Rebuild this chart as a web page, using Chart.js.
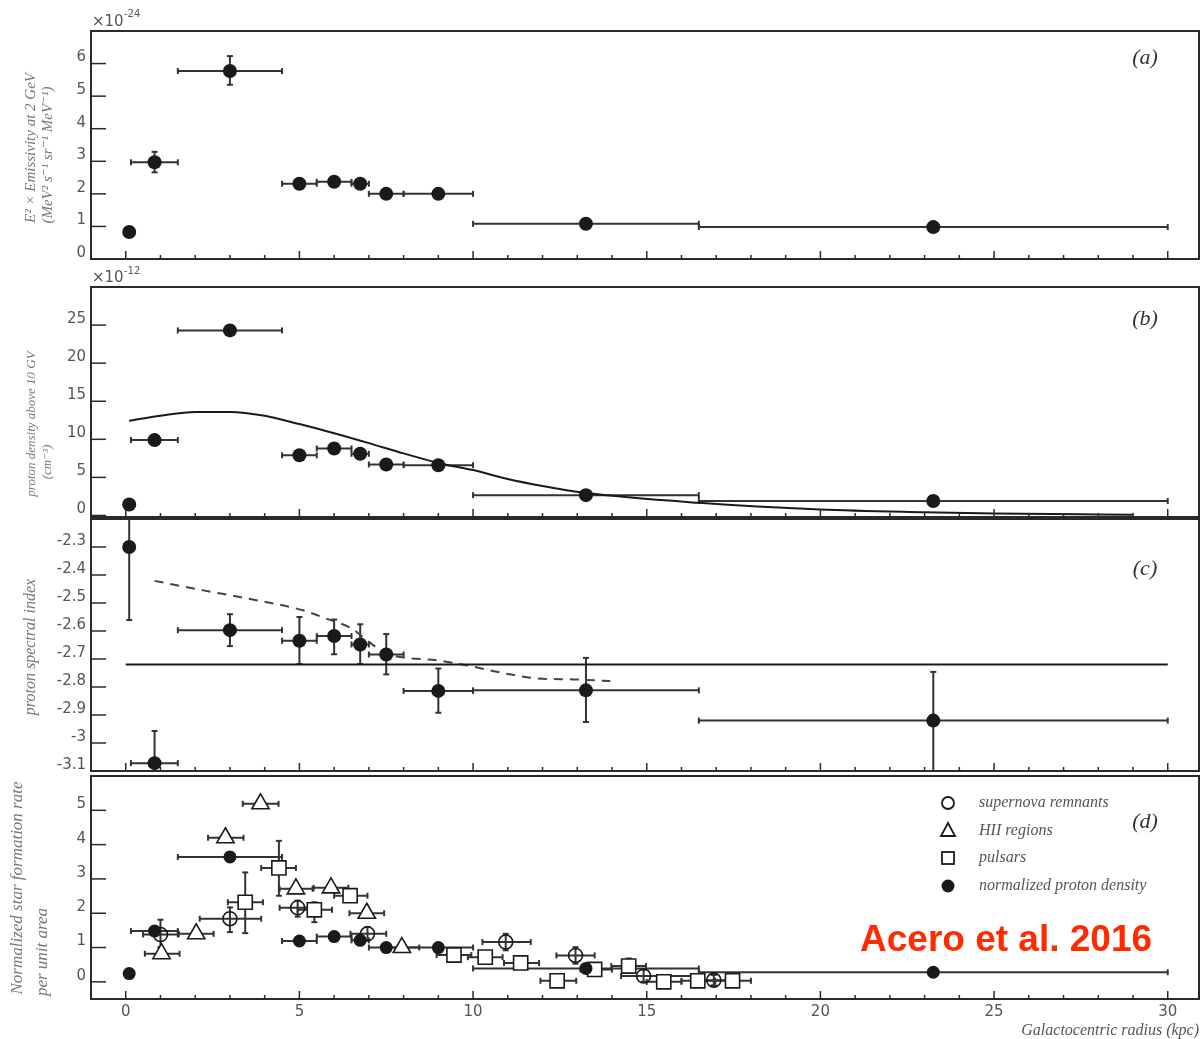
<!DOCTYPE html>
<html>
<head>
<meta charset="utf-8">
<script src="https://cdn.jsdelivr.net/npm/chart.js@4.4.0/dist/chart.umd.min.js"></script>
<style>
  body { margin: 0; background: #fff; }
  #wrap { position: relative; width: 1201px; height: 1039px; }
  #wrap canvas { position: absolute; left: 0; top: 0; }
</style>
</head>
<body>
<div id="wrap">
  <canvas id="panel_a" width="1201" height="1039"></canvas>
  <canvas id="panel_b" width="1201" height="1039"></canvas>
  <canvas id="panel_c" width="1201" height="1039"></canvas>
  <canvas id="panel_d" width="1201" height="1039"></canvas>
</div>
<script>
// radial bins (kpc), shared by the proton points of every panel
var binR  = [0.1, 0.83, 3.0, 5.0, 6.0, 6.75, 7.5, 9.0, 13.25, 23.25];
var binLo = [null, 0.15, 1.5, 4.5, 5.5, 6.5, 7.0, 8.0, 10.0, 16.5];
var binHi = [null, 1.5, 4.5, 5.5, 6.5, 7.0, 8.0, 10.0, 16.5, 30.0];

// (a) emissivity, units of 1e-24
var aVal = [0.83, 2.97, 5.77, 2.31, 2.37, 2.31, 2.0, 2.0, 1.08, 0.98];
var aYlo = [null, 2.66, 5.35, null, null, null, null, null, null, null];
var aYhi = [null, 3.29, 6.23, null, null, null, null, null, null, null];

// (b) proton density above 10 GV, units of 1e-12
var bVal = [1.45, 9.9, 24.3, 7.9, 8.8, 8.1, 6.7, 6.6, 2.67, 1.9];
var bModelR   = [0.1, 1, 2, 3, 4, 5, 6, 7, 8, 9, 10, 11, 12, 13.2, 16.5, 20, 23, 25, 28, 29];
var bModelVal = [12.45, 13.1, 13.6, 13.6, 13.1, 12.0, 10.8, 9.5, 8.15, 6.9, 5.96, 4.78, 3.86, 2.97, 1.66, 0.79, 0.43, 0.26, 0.13, 0.1];

// (c) proton spectral index
var cVal = [-2.30, -3.072, -2.597, -2.635, -2.618, -2.648, -2.684, -2.814, -2.812, -2.92];
var cYlo = [-2.561, -3.2, -2.654, -2.718, -2.683, -2.718, -2.755, -2.892, -2.925, -3.1];
var cYhi = [-2.2, -2.957, -2.54, -2.55, -2.559, -2.576, -2.611, -2.734, -2.696, -2.746];
var cFitR = [0, 30];
var cFitVal = [-2.72, -2.72];
var cModelR   = [0.83, 2.2, 3.5, 5.1, 5.75, 6.5, 7.0, 7.5, 9.05, 9.8, 10.9, 11.8, 12.9, 13.95];
var cModelVal = [-2.421, -2.454, -2.484, -2.526, -2.555, -2.591, -2.639, -2.68, -2.706, -2.722, -2.751, -2.769, -2.773, -2.779];

// (d) normalized star formation rate
var dDensVal = [0.24, 1.48, 3.64, 1.19, 1.32, 1.21, 1.0, 1.0, 0.39, 0.28];

var snrR   = [1.0, 3.0, 4.95, 6.96, 10.94, 12.95, 14.91, 16.93];
var snrVal = [1.38, 1.84, 2.16, 1.40, 1.16, 0.77, 0.17, 0.05];
var snrXlo = [0.5, 2.13, 4.43, 6.47, 10.27, 12.4, 14.26, 16.3];
var snrXhi = [1.5, 3.9, 5.48, 7.5, 11.66, 13.5, 16.45, 17.55];
var snrYlo = [1.01, 1.45, 1.9, 1.21, 0.92, 0.53, 0.0, -0.1];
var snrYhi = [1.81, 2.17, 2.37, 1.6, 1.4, 1.01, 0.35, 0.2];

var hiiR   = [1.03, 2.03, 2.87, 3.88, 4.9, 5.91, 6.94, 7.95];
var hiiVal = [0.82, 1.40, 4.2, 5.19, 2.71, 2.74, 2.0, 1.0];
var hiiXlo = [0.55, 1.53, 2.37, 3.37, 4.43, 5.41, 6.44, 7.45];
var hiiXhi = [1.55, 2.53, 3.39, 4.4, 5.38, 6.41, 7.44, 8.45];

var psrR   = [3.44, 4.41, 5.43, 6.46, 9.45, 10.35, 11.37, 12.42, 13.5, 14.48, 15.49, 16.47, 17.47];
var psrVal = [2.32, 3.32, 2.1, 2.51, 0.78, 0.72, 0.55, 0.03, 0.36, 0.46, 0.0, 0.03, 0.03];
var psrXlo = [2.94, 3.9, 4.95, 6.0, 8.95, 9.85, 10.89, 11.94, 13.09, 13.98, 15.0, 16.0, 16.97];
var psrXhi = [3.95, 4.9, 5.94, 6.96, 9.95, 10.85, 11.9, 12.97, 14.0, 14.98, 16.0, 16.97, 18.0];
var psrYlo = [1.42, 2.51, 1.74, 2.35, 0.66, 0.6, 0.43, -0.12, 0.24, 0.3, -0.15, -0.1, -0.1];
var psrYhi = [3.19, 4.11, 2.32, 2.67, 0.9, 0.84, 0.67, 0.18, 0.48, 0.68, 0.12, 0.15, 0.15];

// tick labels
var xTicks = [0, 5, 10, 15, 20, 25, 30];
var aTicks = [0, 1, 2, 3, 4, 5, 6];
var bTicks = [0, 5, 10, 15, 20, 25];
var cTicks = [-3.1, -3, -2.9, -2.8, -2.7, -2.6, -2.5, -2.4, -2.3];
var dTicks = [0, 1, 2, 3, 4, 5];

var legendNames = ["supernova remnants", "HII regions", "pulsars", "normalized proton density"];

var INK = "#1a1a1a";
var BAR = "#333";
var SERIF_I = "italic {s}px 'Liberation Serif', 'DejaVu Serif', serif";
function serif(s) { return SERIF_I.replace("{s}", s); }

function pts(xs, ys) {
    var out = [];
    for (var i = 0; i < xs.length; i++) {
        out.push({ x: xs[i], y: ys[i] });
    }
    return out;
}

function line(ctx, x1, y1, x2, y2) {
    ctx.beginPath();
    ctx.moveTo(x1, y1);
    ctx.lineTo(x2, y2);
    ctx.stroke();
}

function txt(ctx, s, x, y, font, color, align, rot) {
    ctx.save();
    ctx.translate(x, y);
    if (rot) ctx.rotate(rot);
    ctx.font = font;
    ctx.fillStyle = color;
    ctx.textAlign = align || "left";
    ctx.textBaseline = "middle";
    ctx.fillText(s, 0, 0);
    ctx.restore();
}

// extra drawing per panel: texts, y ticks, legend
var extras = {};

var panelPlugin = {
    id: "panel",
    beforeDatasetsDraw: function(chart) {
        var ctx = chart.ctx, xs = chart.scales.x, ys = chart.scales.y, area = chart.chartArea;
        ctx.save();
        ctx.beginPath();
        ctx.rect(area.left, area.top, area.right - area.left, area.bottom - area.top);
        ctx.clip();
        ctx.strokeStyle = BAR;
        ctx.lineWidth = 2;
        chart.data.datasets.forEach(function(ds) {
            if (!ds.err) return;
            var e = ds.err;
            ds.data.forEach(function(p, i) {
                var px = xs.getPixelForValue(p.x), py = ys.getPixelForValue(p.y);
                if (e.xlo && e.xlo[i] != null) {
                    var x1 = xs.getPixelForValue(e.xlo[i]), x2 = xs.getPixelForValue(e.xhi[i]);
                    line(ctx, x1, py, x2, py);
                    line(ctx, x1, py - 3, x1, py + 3);
                    line(ctx, x2, py - 3, x2, py + 3);
                }
                if (e.ylo && e.ylo[i] != null) {
                    var y1 = ys.getPixelForValue(e.ylo[i]), y2 = ys.getPixelForValue(e.yhi[i]);
                    line(ctx, px, y1, px, y2);
                    line(ctx, px - 3, y1, px + 3, y1);
                    line(ctx, px - 3, y2, px + 3, y2);
                }
            });
        });
        ctx.restore();
    },
    afterDraw: function(chart) {
        var ctx = chart.ctx, xs = chart.scales.x, ys = chart.scales.y, area = chart.chartArea;
        var ex = extras[chart.canvas.id];
        ctx.save();
        ctx.strokeStyle = "#2a2a2a";
        ctx.lineWidth = 2;
        ctx.strokeRect(area.left, area.top, area.right - area.left, area.bottom - area.top);
        // inward ticks
        ctx.lineWidth = 1.5;
        ex.yTicks.forEach(function(v) {
            var y = ys.getPixelForValue(v);
            line(ctx, area.left, y, area.left + 15, y);
        });
        for (var r = 0; r <= 30; r++) {
            var x = xs.getPixelForValue(r);
            line(ctx, x, area.bottom, x, area.bottom - (r % 5 === 0 ? 8 : 4));
        }
        ctx.restore();
        ex.texts.forEach(function(t) {
            txt(ctx, t[0], t[1], t[2], t[3], t[4], t[5], t[6]);
        });
        if (ex.legend) drawLegend(ctx);
    }
};

function drawLegend(ctx) {
    var mx = 948, rows = [803, 831, 858, 886];
    ctx.save();
    ctx.strokeStyle = INK;
    ctx.lineWidth = 1.8;
    ctx.beginPath();
    ctx.arc(mx, rows[0], 6, 0, Math.PI * 2);
    ctx.stroke();
    ctx.beginPath();
    ctx.moveTo(mx, rows[1] - 8);
    ctx.lineTo(mx + 7, rows[1] + 5);
    ctx.lineTo(mx - 7, rows[1] + 5);
    ctx.closePath();
    ctx.stroke();
    ctx.strokeRect(mx - 6, rows[2] - 6, 12, 12);
    ctx.fillStyle = INK;
    ctx.beginPath();
    ctx.arc(mx, rows[3], 6.5, 0, Math.PI * 2);
    ctx.fill();
    ctx.restore();
    legendNames.forEach(function(n, i) {
        txt(ctx, n, 979, rows[i], serif(16), "#555", "left");
    });
}

function makePanel(id, top, bottom, yMin, yMax, yTicks, datasets, showX, texts, legend) {
    var xh = showX ? 40 : 0;
    extras[id] = { yTicks: yTicks, texts: texts, legend: legend };
    return new Chart(document.getElementById(id), {
        type: "scatter",
        data: { datasets: datasets },
        options: {
            responsive: false,
            animation: false,
            events: [],
            layout: { autoPadding: false, padding: { left: 0, right: 2, top: top, bottom: 1039 - bottom - xh } },
            plugins: { legend: { display: false }, tooltip: { enabled: false } },
            scales: {
                x: {
                    type: "linear", min: -1, max: 30.9,
                    grid: { display: false, drawTicks: false }, border: { display: false },
                    ticks: {
                        display: showX, color: "#555", padding: 4, maxRotation: 0, autoSkip: false,
                        font: { family: "'DejaVu Sans', sans-serif", size: 15 },
                        callback: function(v) { return String(v); }
                    },
                    afterBuildTicks: function(s) { s.ticks = xTicks.map(function(v) { return { value: v }; }); },
                    afterFit: function(s) { s.height = xh; s.paddingLeft = 0; s.paddingRight = 0; }
                },
                y: {
                    type: "linear", min: yMin, max: yMax,
                    grid: { display: false, drawTicks: false }, border: { display: false },
                    ticks: {
                        color: "#555", padding: 5, labelOffset: -6, autoSkip: false,
                        font: { family: "'DejaVu Sans', sans-serif", size: 15 },
                        callback: function(v) { return String(v); }
                    },
                    afterBuildTicks: function(s) { s.ticks = yTicks.map(function(v) { return { value: v }; }); },
                    afterFit: function(s) { s.width = 91; s.paddingTop = 0; s.paddingBottom = 0; }
                }
            }
        },
        plugins: [panelPlugin]
    });
}

var dot = { pointStyle: "circle", pointRadius: 7, backgroundColor: INK, borderColor: INK, borderWidth: 0 };
var ROT = -Math.PI / 2;
var SANS = "'DejaVu Sans', sans-serif";

// (a)
makePanel("panel_a", 31, 259, 0, 7, aTicks, [
    Object.assign({ label: "emissivity", data: pts(binR, aVal),
        err: { xlo: binLo, xhi: binHi, ylo: aYlo, yhi: aYhi } }, dot)
], false, [
    ["×10", 92, 22, "15px " + SANS, "#555", "left"],
    ["-24", 124, 14, "10px " + SANS, "#555", "left"],
    ["(a)", 1145, 58, serif(22), "#333", "center"],
    ["E² × Emissivity at 2 GeV", 31, 148, serif(15), "#777", "center", ROT],
    ["(MeV² s⁻¹ sr⁻¹ MeV⁻¹)", 48, 155, serif(15), "#777", "center", ROT]
], false);

// (b)
makePanel("panel_b", 287, 517, -0.2, 30, bTicks, [
    Object.assign({ label: "proton density", data: pts(binR, bVal),
        err: { xlo: binLo, xhi: binHi } }, dot),
    { label: "model", data: pts(bModelR, bModelVal), showLine: true, pointRadius: 0,
      borderColor: INK, borderWidth: 2, cubicInterpolationMode: "monotone" }
], false, [
    ["×10", 92, 278, "15px " + SANS, "#555", "left"],
    ["-12", 124, 271, "10px " + SANS, "#555", "left"],
    ["(b)", 1145, 319, serif(22), "#333", "center"],
    ["proton density above 10 GV", 32, 424, serif(13), "#777", "center", ROT],
    ["(cm⁻³)", 48, 462, serif(13), "#777", "center", ROT]
], false);

// (c)
makePanel("panel_c", 519, 771, -3.1, -2.2, cTicks, [
    Object.assign({ label: "spectral index", data: pts(binR, cVal),
        err: { xlo: binLo, xhi: binHi, ylo: cYlo, yhi: cYhi } }, dot),
    { label: "mean", data: pts(cFitR, cFitVal), showLine: true, pointRadius: 0,
      borderColor: INK, borderWidth: 2 },
    { label: "model", data: pts(cModelR, cModelVal), showLine: true, pointRadius: 0,
      borderColor: "#444", borderWidth: 2, borderDash: [9, 7], cubicInterpolationMode: "monotone" }
], false, [
    ["(c)", 1145, 569, serif(22), "#333", "center"],
    ["proton spectral index", 31, 647, serif(16), "#777", "center", ROT]
], false);

// (d)
makePanel("panel_d", 776, 999, -0.5, 6, dTicks, [
    Object.assign({ label: "normalized proton density", data: pts(binR, dDensVal),
        err: { xlo: binLo, xhi: binHi } }, dot, { pointRadius: 6.5 }),
    { label: "supernova remnants", data: pts(snrR, snrVal),
      err: { xlo: snrXlo, xhi: snrXhi, ylo: snrYlo, yhi: snrYhi },
      pointStyle: "circle", pointRadius: 7, backgroundColor: "rgba(0,0,0,0)", borderColor: INK, borderWidth: 1.6 },
    { label: "HII regions", data: pts(hiiR, hiiVal),
      err: { xlo: hiiXlo, xhi: hiiXhi },
      pointStyle: "triangle", pointRadius: 10, backgroundColor: "#fff", borderColor: INK, borderWidth: 1.6 },
    { label: "pulsars", data: pts(psrR, psrVal),
      err: { xlo: psrXlo, xhi: psrXhi, ylo: psrYlo, yhi: psrYhi },
      pointStyle: "rect", pointRadius: 10, backgroundColor: "#fff", borderColor: INK, borderWidth: 1.6 }
], true, [
    ["(d)", 1145, 822, serif(22), "#333", "center"],
    ["Normalized star formation rate", 18, 888, serif(17), "#777", "center", ROT],
    ["per unit area", 43, 952, serif(17), "#777", "center", ROT],
    ["Galactocentric radius (kpc)", 1199, 1031, serif(16), "#555", "right"],
    ["Acero et al. 2016", 860, 941, "bold 37px 'Liberation Sans', Arial, sans-serif", "#ff2a00", "left"]
], true);
</script>
</body>
</html>
